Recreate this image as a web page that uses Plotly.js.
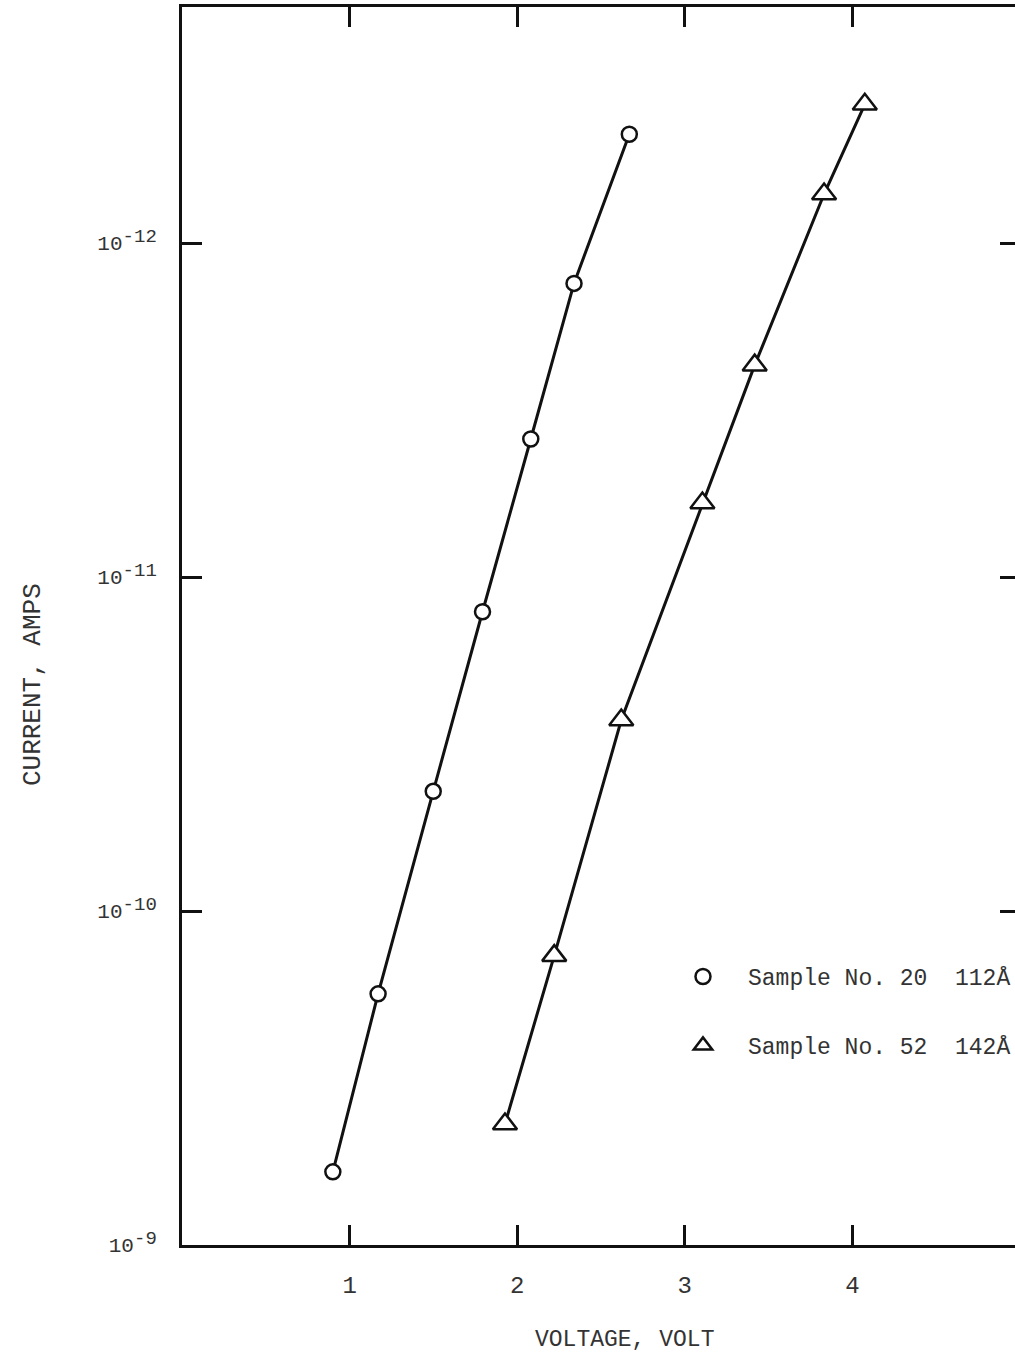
<!DOCTYPE html>
<html>
<head>
<meta charset="utf-8">
<script src="https://cdn.plot.ly/plotly-3.0.1.min.js"></script>
<style>
  html, body { margin: 0; padding: 0; background: #fff; overflow: hidden; }
  #chart { width: 1020px; height: 1357px; }
</style>
</head>
<body>
<div id="chart"></div>
<script>
// Sample No. 20 (circles)
var voltage20 = [0.900, 1.170, 1.499, 1.793, 2.081, 2.339, 2.669];
var current20 = [6.04e-10, 1.77e-10, 4.38e-11, 1.27e-11, 3.86e-12, 1.32e-12, 4.72e-13];
// Sample No. 52 (triangles)
var voltage52 = [1.927, 2.221, 2.621, 3.105, 3.417, 3.831, 4.074];
var current52 = [4.34e-10, 1.36e-10, 2.68e-11, 6.0e-12, 2.32e-12, 7.13e-13, 3.84e-13];

var seriesNames = ["Sample No. 20\u00A0 112\u00C5", "Sample No. 52\u00A0 142\u00C5"];
var xTickVals = [1, 2, 3, 4];
var xTickText = ["1", "2", "3", "4"];
var yTickVals = [1e-9, 1e-10, 1e-11, 1e-12];
var yExponents = ["-9", "-10", "-11", "-12"];
var xTitle = "VOLTAGE, VOLT";
var yTitle = "CURRENT, AMPS";

var yTickText = yExponents.map(function (e) {
  return "10<sup><span style='font-size:19px'>" + e + "</span></sup>";
});

var FONT = "Liberation Mono, Courier New, monospace";
var INK = "#111";
var TXT = "#333";

var traces = [
  { x: voltage20, y: current20, mode: "lines", line: { color: INK, width: 3 }, showlegend: false, hoverinfo: "skip" },
  { x: voltage52, y: current52, mode: "lines", line: { color: INK, width: 3 }, showlegend: false, hoverinfo: "skip" },
  { x: voltage20, y: current20, mode: "markers", name: seriesNames[0], legendgroup: "a",
    marker: { symbol: "circle", size: 15, color: "#fff", line: { color: INK, width: 2.5 } } },
  { x: voltage52, y: current52, mode: "markers", name: seriesNames[1], legendgroup: "b",
    marker: { symbol: "triangle-up", size: 21, color: "#fff", line: { color: INK, width: 2.5 } } }
];

var axisCommon = {
  showgrid: false, zeroline: false, showline: true, linecolor: INK, linewidth: 3,
  mirror: "ticks", ticks: "inside", ticklen: 20, tickwidth: 3, tickcolor: INK,
  tickfont: { family: FONT, size: 24, color: TXT }
};

var layout = {
  width: 1020, height: 1357,
  margin: { l: 182, r: 0, t: 7, b: 112 },
  paper_bgcolor: "#fff", plot_bgcolor: "#fff",
  font: { family: FONT, color: TXT },
  xaxis: Object.assign({}, axisCommon, {
    range: [0, 5], tickmode: "array", tickvals: xTickVals, ticktext: xTickText,
    ticklabelstandoff: 16
  }),
  yaxis: Object.assign({}, axisCommon, {
    type: "log", autorange: false, range: [-9, -12.707],
    tickmode: "array", tickvals: yTickVals, ticktext: yTickText,
    tickfont: { family: FONT, size: 21, color: TXT },
    ticklabelstandoff: 18
  }),
  showlegend: true,
  legend: {
    x: 0.568, xanchor: "left", y: 0.2342, yanchor: "top",
    bgcolor: "rgba(0,0,0,0)", borderwidth: 0,
    font: { family: FONT, size: 23, color: TXT },
    tracegroupgap: 36, itemwidth: 80
  },
  annotations: [
    { text: yTitle, xref: "paper", yref: "paper", x: -0.1778, y: 0.4523, textangle: -90,
      xanchor: "center", yanchor: "middle",
      showarrow: false, font: { family: FONT, size: 26, color: TXT } },
    { text: xTitle, xref: "paper", yref: "paper", x: 0.5286, y: -0.0767,
      xanchor: "center", yanchor: "middle",
      showarrow: false, font: { family: FONT, size: 23, color: TXT } }
  ]
};

Plotly.newPlot("chart", traces, layout, { displayModeBar: false, staticPlot: true });
</script>
</body>
</html>
